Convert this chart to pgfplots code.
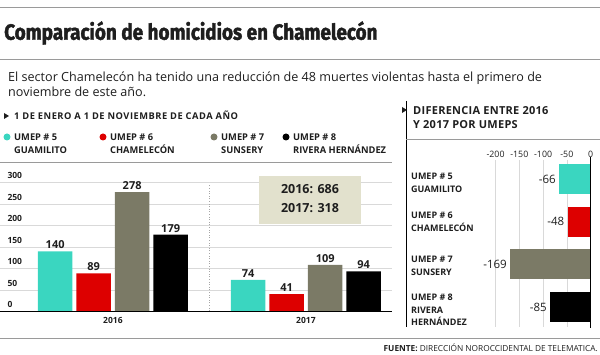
\documentclass[border=0pt]{standalone}
\usepackage{fontspec}
\usepackage{pgfplots}
\pgfplotsset{compat=1.18}
\setmainfont{Open Sans}
\newfontfamily\heavy[FakeStretch=0.86, BoldFeatures={FakeBold=1.8}]{Fira Sans}
\definecolor{cCyan}{HTML}{3AD6C0}
\definecolor{cRed}{HTML}{DD0000}
\definecolor{cGray}{HTML}{7B7A66}
\definecolor{cBeige}{HTML}{E2E1CD}
\definecolor{cLine}{HTML}{9A9A9A}
\definecolor{cText}{HTML}{1E1E1E}
\begin{document}
\begin{tikzpicture}[x=1pt,y=1pt]
\path[use as bounding box] (0,0) rectangle (600,355);
% header
\draw[cLine, line width=1pt] (0,347) -- (600,347);
\node[anchor=west, inner sep=0pt, text=cText] at (4,322) {\heavy\bfseries\fontsize{22}{24}\selectfont Comparación de homicidios en Chamelecón};
\draw[cLine, line width=1pt] (0,295) -- (600,295);
\node[anchor=base west, inner sep=0pt, text=cText] at (8,273) {\fontsize{12.6}{14}\selectfont El sector Chamelecón ha tenido una reducción de 48 muertes violentas hasta el primero de};
\node[anchor=base west, inner sep=0pt, text=cText] at (8,258) {\fontsize{12.6}{14}\selectfont noviembre de este año.};
% subheading left
\fill[cText] (4,236) -- (9,239) -- (4,242) -- cycle;
\node[anchor=west, inner sep=0pt, text=cText, text height=0.72em, text depth=0pt] at (14,239) {\bfseries\fontsize{9.3}{10}\selectfont\addfontfeatures{LetterSpace=5.5}1 DE ENERO A 1 DE NOVIEMBRE DE CADA AÑO};
% legend
\fill[cCyan] (7,218) circle (3.5);
\fill[cRed] (103,218) circle (3.5);
\fill[cGray] (214,218) circle (3.5);
\fill[black] (286,218) circle (3.5);
\begin{scope}[every node/.style={anchor=west, inner sep=0pt, text=cText, font=\bfseries\fontsize{9.3}{10}\selectfont, text height=0.72em, text depth=0pt}]
\node at (14,218) {UMEP \# 5};
\node at (14,205) {GUAMILITO};
\node at (110,218) {UMEP \# 6};
\node at (110,205) {CHAMELECÓN};
\node at (221,218) {UMEP \# 7};
\node at (221,205) {SUNSERY};
\node at (293,218) {UMEP \# 8};
\node at (293,205) {RIVERA HERNÁNDEZ};
\end{scope}
\draw[cLine, line width=0.8pt] (0,193) -- (392,193);
% left chart
\begin{axis}[at={(0pt,43.3pt)}, anchor=south west, scale only axis,
  width=392pt, height=129pt,
  xmin=-0.585, xmax=1.446, ymin=0, ymax=300,
  ybar=4pt, bar width=34.5pt,
  axis line style={draw=none},
  major tick length=0pt,
  /pgf/number format/assume math mode=true,
  ytick={0,50,100,150,200,250,300},
  ymajorgrids, grid style={gray!30, line width=0.6pt},
  yticklabel style={anchor=south west, xshift=4pt, yshift=0.5pt, font=\bfseries\fontsize{8.5}{9}\selectfont, text=cText},
  xtick={0,1}, xticklabels={2016,2017},
  xticklabel style={font=\bfseries\fontsize{8.5}{9}\selectfont, text=cText, yshift=-2pt},
  nodes near coords,
  every node near coord/.append style={font=\bfseries\fontsize{11}{12}\selectfont, text=cText, yshift=-1pt},
  clip=false]
\addplot[fill=cCyan, draw=none] coordinates {(0,140) (1,74)};
\addplot[fill=cRed, draw=none] coordinates {(0,89) (1,41)};
\addplot[fill=cGray, draw=none] coordinates {(0,278) (1,109)};
\addplot[fill=black, draw=none] coordinates {(0,179) (1,94)};
\draw[black, line width=1.2pt] (rel axis cs:0,0) -- (rel axis cs:1,0);
\draw[gray!70, dotted, line width=0.6pt] (axis cs:0.5,2) -- (axis cs:0.5,298);
\end{axis}
% beige box
\fill[cBeige] (259,131) rectangle (361,179);
\node[text=cText] at (310,166) {\bfseries\fontsize{12.5}{14}\selectfont 2016: 686};
\node[text=cText] at (310,147) {\bfseries\fontsize{12.5}{14}\selectfont 2017: 318};
% right panel
\draw[black, line width=0.7pt] (406,254) -- (406,28);
\fill[cText] (402,242) -- (407,245) -- (402,248) -- cycle;
\node[anchor=west, inner sep=0pt, text=cText, text height=0.72em, text depth=0pt] at (413,244) {\bfseries\fontsize{11}{12}\selectfont\addfontfeatures{LetterSpace=2.5}DIFERENCIA ENTRE 2016};
\node[anchor=west, inner sep=0pt, text=cText, text height=0.72em, text depth=0pt] at (413,230) {\bfseries\fontsize{11}{12}\selectfont\addfontfeatures{LetterSpace=2.5}Y 2017 POR UMEPS};
\draw[cLine, line width=0.8pt] (406,216) -- (600,216);
\begin{axis}[at={(406pt,28pt)}, anchor=south west, scale only axis,
  width=194pt, height=167pt,
  xmin=-388.6, xmax=19.8, ymin=-0.445, ymax=3.47, y dir=reverse,
  xbar, bar width=30pt, bar shift=0pt,
  axis line style={draw=none},
  major tick length=0pt,
  /pgf/number format/assume math mode=true,
  ytick=\empty,
  xtick={-200,-150,-100,-50,0},
  xticklabel pos=right,
  xticklabel style={font=\fontsize{8.8}{9}\selectfont, text=cText, yshift=-1pt},
  nodes near coords,
  every node near coord/.append style={anchor=east, font=\fontsize{11.5}{12}\selectfont, text=cText},
  clip=false]
\draw[gray!30, line width=0.6pt] (axis cs:-200,-0.445) -- (axis cs:-200,3.47);
\draw[gray!30, line width=0.6pt] (axis cs:-150,-0.445) -- (axis cs:-150,3.47);
\draw[gray!30, line width=0.6pt] (axis cs:-100,-0.445) -- (axis cs:-100,3.47);
\draw[gray!30, line width=0.6pt] (axis cs:-50,-0.445) -- (axis cs:-50,3.47);
\addplot[fill=cCyan, draw=none] coordinates {(-66,0)};
\addplot[fill=cRed, draw=none] coordinates {(-48,1)};
\addplot[fill=cGray, draw=none] coordinates {(-169,2)};
\addplot[fill=black, draw=none] coordinates {(-85,3)};
\draw[black, line width=1.2pt] (axis cs:0,-0.52) -- (axis cs:0,3.49);
\end{axis}
\begin{scope}[every node/.style={anchor=west, inner sep=0pt, text=cText, font=\bfseries\fontsize{9}{10}\selectfont, text height=0.72em, text depth=0pt}]
\node at (411,179) {UMEP \# 5};
\node at (411,166) {GUAMILITO};
\node at (411,140) {UMEP \# 6};
\node at (411,127) {CHAMELECÓN};
\node at (411,96) {UMEP \# 7};
\node at (411,83) {SUNSERY};
\node at (411,58) {UMEP \# 8};
\node at (411,45) {RIVERA};
\node at (411,33) {HERNÁNDEZ};
\end{scope}
% footer
\draw[cLine, line width=1pt] (0,16) -- (600,16);
\node[anchor=east, inner sep=0pt, text=cText] at (598,7) {\fontsize{8.3}{9}\selectfont\textbf{FUENTE:} DIRECCIÓN NOROCCIDENTAL DE TELEMATICA.};
\end{tikzpicture}
\end{document}
